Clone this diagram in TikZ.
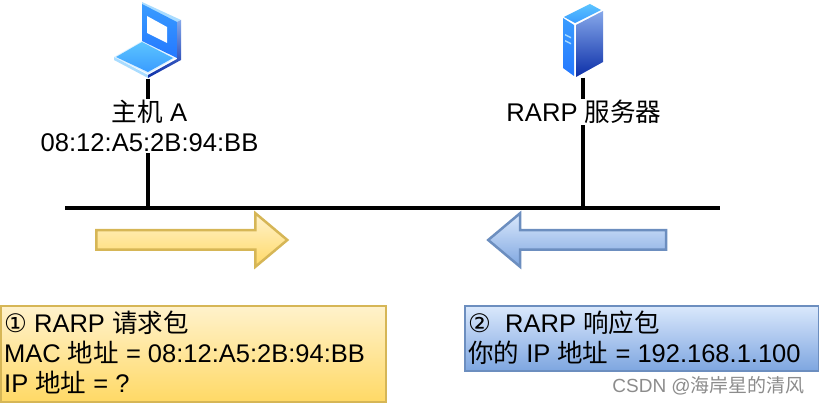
\documentclass[tikz,border=0pt]{standalone}
\usepackage{fontspec}
\setmainfont{Liberation Sans}
\newfontfamily\cjkfont{Noto Sans CJK SC}
\newfontfamily\symfont{DejaVu Sans}
\newcommand{\zh}[1]{{\cjkfont #1}}
\usetikzlibrary{shapes,arrows,calc,backgrounds}
\definecolor{yellowedge}{HTML}{D6B656}
\definecolor{yellowtop}{HTML}{FFF2CC}
\definecolor{yellowbot}{HTML}{FFD966}
\definecolor{blueedge}{HTML}{6C8EBF}
\definecolor{bluetop}{HTML}{DAE8FC}
\definecolor{bluebot}{HTML}{7EA6E0}
\definecolor{icontop}{HTML}{5BC4FF}
\definecolor{iconmid}{HTML}{3A9CFF}
\definecolor{icondeep}{HTML}{2478FF}
\definecolor{iconpale}{HTML}{A9DCFF}
\definecolor{iconside}{HTML}{86A8EA}
\definecolor{icondark}{HTML}{0C2FA8}
\tikzstyle{textlabel} = [fill=white, inner sep=1pt, align=center, font=\fontsize{25.6}{30}\selectfont]
\tikzstyle{packet} = [rectangle, anchor=north west, inner sep=0pt, line width=1.5pt]
\tikzstyle{yellowpacket} = [packet, draw=yellowedge, top color=yellowtop, bottom color=yellowbot]
\tikzstyle{bluepacket} = [packet, draw=blueedge, top color=bluetop, bottom color=bluebot]
\tikzstyle{packetline} = [anchor=base west, inner sep=0pt, font=\fontsize{25.5}{30}\selectfont]
\tikzstyle{flow} = [single arrow, minimum width=52pt, inner sep=0pt, text height=17pt, text depth=0pt,
    single arrow head extend=17pt, single arrow tip angle=80, line width=2.5pt]
\tikzstyle{iconbox} = [rectangle, inner sep=0pt]
\tikzstyle{wire} = [draw, line width=3.2pt]

\begin{document}
\begin{tikzpicture}[x=1pt, y=-1pt, node distance=45pt]
    \useasboundingbox (0,0) rectangle (819,403);
    % Place nodes
    \node [iconbox, minimum width=68pt, minimum height=79pt] (laptop) at (148,39) {};
    \node [iconbox, minimum width=40pt, minimum height=75pt] (server) at (583,40) {};
    \node [textlabel, below of=laptop, node distance=87pt, xshift=1.5pt] (host_a) {\zh{主机} A\\08:12:A5:2B:94:BB};
    \node [textlabel, below of=server, node distance=72pt, xshift=1pt] (rarp_srv) {RARP \zh{服务器}};
    \coordinate (bus_l) at (65,208);
    \coordinate (bus_r) at (720,208);
    \node [flow, minimum height=191pt, draw=yellowedge, top color=yellowtop, bottom color=yellowbot] (req_arrow) at (186,240) {};
    \node [flow, minimum height=178pt, shape border rotate=180, draw=blueedge, top color=bluetop, bottom color=bluebot] (resp_arrow) at (583,240) {};
    \node [yellowpacket, minimum width=385pt, minimum height=96pt] (req_box) at (0,305) {};
    \node [bluepacket, minimum width=354pt, minimum height=65pt] (resp_box) at (464,305) {};
    \node [packetline] (req_l1) at (4,332) {{\symfont ①} RARP \zh{请求包}};
    \node [packetline] (req_l2) at (4,362) {MAC \zh{地址} = 08:12:A5:2B:94:BB};
    \node [packetline] (req_l3) at (4,392) {IP \zh{地址} = ?};
    \node [packetline] (resp_l1) at (468,332) {{\symfont ②}\ \ RARP \zh{响应包}};
    \node [packetline] (resp_l2) at (468,362) {\zh{你的} IP \zh{地址} = 192.168.1.100};
    \node [anchor=base east, inner sep=0pt, text=black!45, font=\fontsize{19}{20}\selectfont] (mark) at (805,392) {CSDN @\zh{海岸星的清风}};
    % Draw laptop
    \fill [white!60!iconpale] (114,57) -- (142,41) -- (175,58) -- (148,74) -- cycle;
    \shade [top color=icontop, bottom color=iconmid] (116,57) -- (142,42) -- (173,58) -- (148,72) -- cycle;
    \fill [iconpale] (114,57) -- (148,75) -- (148,78) -- (114,60) -- cycle;
    \fill [iconpale] (142,2) -- (181,20) -- (177,22) -- (142,5) -- cycle;
    \shade [top color=iconmid, bottom color=icondeep] (142,4) -- (177,22) -- (177,58) -- (142,41) -- cycle;
    \fill [white] (147,16) -- (167,27) -- (167,43) -- (147,33) -- cycle;
    \shade [top color=iconside, bottom color=icondark] (177,22) -- (181,20) -- (181,60) -- (148,78) -- (148,75) -- (177,59) -- cycle;
    % Draw server
    \fill [white] (563,17) -- (590,3) -- (603,10) -- (603,62) -- (576,77) -- (563,68) -- cycle;
    \shade [top color=icontop, bottom color=iconmid] (564,17) -- (590,4) -- (601,10) -- (575,23) -- cycle;
    \shade [top color=iconmid, bottom color=icondeep] (563,18) -- (574,25) -- (574,76) -- (563,68) -- cycle;
    \shade [top color=iconside, bottom color=icondark] (576,25) -- (603,11) -- (603,62) -- (576,77) -- cycle;
    \fill [iconpale] (565,34) -- (571,37) -- (571,38.5) -- (565,35.5) -- cycle;
    \fill [iconpale] (565,40) -- (571,43) -- (571,44.5) -- (565,41.5) -- cycle;
    % Draw edges
    \begin{scope}[on background layer]
        \path [wire] (bus_l) -- (bus_r);
        \path [wire] (laptop.south) -- (laptop.south |- bus_l);
        \path [wire] (server.south) -- (server.south |- bus_l);
    \end{scope}
\end{tikzpicture}
\end{document}
